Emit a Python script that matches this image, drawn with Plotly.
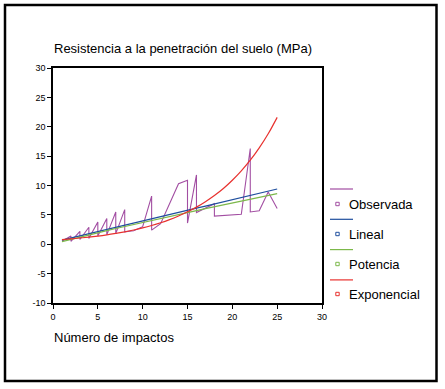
import plotly.graph_objects as go

# ---- data ----
obs_x = [1, 2, 2, 3, 3, 4, 4, 5, 5, 6, 6, 7, 7, 8, 8, 9, 10, 11, 11, 12, 14, 15, 15,
         16, 16, 18, 18, 21, 22, 22, 23, 24, 25]
obs_y = [0.5, 1.4, 0.5, 2.2, 0.8, 2.9, 1.0, 3.8, 1.4, 4.4, 1.6, 5.5, 1.8, 5.9, 2.1,
         2.3, 3.0, 8.2, 2.4, 3.5, 10.3, 10.9, 3.6, 11.8, 5.4, 6.9, 4.8, 5.1, 16.3,
         5.5, 5.7, 8.9, 6.1]

fit_x = list(range(1, 26))
lineal = [0.70, 1.07, 1.43, 1.79, 2.15, 2.52, 2.88, 3.24, 3.60, 3.97, 4.33, 4.69, 5.05,
          5.42, 5.78, 6.14, 6.50, 6.87, 7.23, 7.59, 7.95, 8.32, 8.68, 9.04, 9.40]
potencia = [0.45, 0.85, 1.23, 1.60, 1.97, 2.33, 2.68, 3.03, 3.37, 3.72, 4.06, 4.39, 4.73,
            5.06, 5.39, 5.72, 6.05, 6.37, 6.70, 7.02, 7.34, 7.66, 7.98, 8.30, 8.61]
exponencial = [0.80, 0.92, 1.06, 1.21, 1.39, 1.60, 1.84, 2.10, 2.42, 2.78, 3.19, 3.66,
               4.20, 4.82, 5.52, 6.32, 7.25, 8.30, 9.50, 10.90, 12.50, 14.30, 16.40,
               18.80, 21.60]

x_tickvals = [0, 5, 10, 15, 20, 25, 30]
x_ticktext = ["0", "5", "10", "15", "20", "25", "30"]
y_tickvals = [-10, -5, 0, 5, 10, 15, 20, 25, 30]
y_ticktext = ["-10", "-5", "0", "5", "10", "15", "20", "25", "30"]

series_names = ["Observada", "Lineal", "Potencia", "Exponencial"]
series_colors = ["#a24ea2", "#1f4f9e", "#7cb84a", "#e8312e"]

title_text = "Resistencia a la penetración del suelo (MPa)"
xtitle_text = "Número de impactos"
FONT = "Arial, Liberation Sans, sans-serif"

W, H = 445, 389
L, R, T, B = 53, 123, 68, 86
PW, PH = W - L - R, H - T - B


def px2x(px):
    return (px - L) / PW


def py2y(py):
    return (H - B - py) / PH


fig = go.Figure()
fig.add_trace(go.Scatter(x=obs_x, y=obs_y, mode="lines",
                         line=dict(color=series_colors[0], width=1.1), showlegend=False))
fig.add_trace(go.Scatter(x=fit_x, y=lineal, mode="lines",
                         line=dict(color=series_colors[1], width=1.2), showlegend=False))
fig.add_trace(go.Scatter(x=fit_x, y=potencia, mode="lines",
                         line=dict(color=series_colors[2], width=1.2), showlegend=False))
fig.add_trace(go.Scatter(x=fit_x, y=exponencial, mode="lines", line_shape="spline",
                         line=dict(color=series_colors[3], width=1.2), showlegend=False))

shapes = []
annotations = []
# outer frame
shapes.append(dict(type="rect", xref="paper", yref="paper",
                   x0=px2x(5), x1=px2x(436.5), y0=py2y(381), y1=py2y(5),
                   line=dict(color="black", width=2.5)))
# custom legend
for i, (name, col) in enumerate(zip(series_names, series_colors)):
    ly = 189 + 30.3 * i
    sy = 204 + 30 * i
    shapes.append(dict(type="line", xref="paper", yref="paper",
                       x0=px2x(330), x1=px2x(353), y0=py2y(ly), y1=py2y(ly),
                       line=dict(color=col, width=1.2)))
    shapes.append(dict(type="rect", xref="paper", yref="paper",
                       x0=px2x(335.8), x1=px2x(339.2), y0=py2y(sy + 1.7), y1=py2y(sy - 1.7),
                       line=dict(color=col, width=1)))
    annotations.append(dict(text=name, xref="paper", yref="paper",
                            x=px2x(347), y=py2y(sy + 0.5), xanchor="left", yanchor="middle",
                            showarrow=False, font=dict(family=FONT, size=13, color="black")))

annotations.append(dict(text=title_text, xref="paper", yref="paper",
                        x=px2x(52), y=py2y(48), xanchor="left", yanchor="middle",
                        showarrow=False, font=dict(family=FONT, size=13, color="black")))
annotations.append(dict(text=xtitle_text, xref="paper", yref="paper",
                        x=px2x(52), y=py2y(337), xanchor="left", yanchor="middle",
                        showarrow=False, font=dict(family=FONT, size=13, color="black")))

axis_common = dict(showgrid=False, zeroline=False, showline=True, mirror=True,
                   linecolor="black", linewidth=1.5, ticks="outside", ticklen=4,
                   tickwidth=1, tickcolor="black",
                   tickfont=dict(family=FONT, size=9, color="black"))

fig.update_layout(
    width=W, height=H,
    margin=dict(l=L, r=R, t=T, b=B, pad=0),
    paper_bgcolor="white", plot_bgcolor="white",
    showlegend=False,
    xaxis=dict(range=[0, 30], tickmode="array", tickvals=x_tickvals,
               ticktext=x_ticktext, **axis_common),
    yaxis=dict(range=[-10, 30], tickmode="array", tickvals=y_tickvals,
               ticktext=y_ticktext, **axis_common),
    shapes=shapes,
    annotations=annotations,
)

fig.write_html("out.html", config={"displayModeBar": False},
               post_script="document.body.style.margin='0';document.body.style.overflow='hidden';")
